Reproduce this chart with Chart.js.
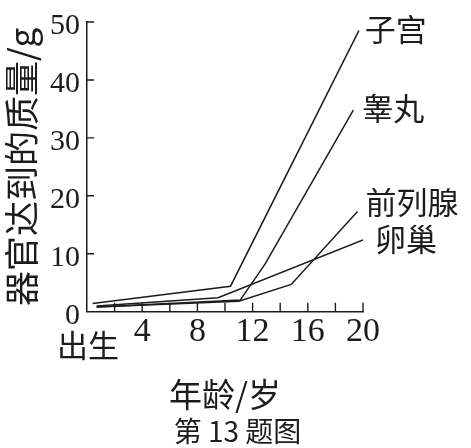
<!DOCTYPE html>
<html>
<head>
<meta charset="utf-8">
<script src="https://cdn.jsdelivr.net/npm/chart.js@4/dist/chart.umd.min.js"></script>
<style>
  html, body { margin: 0; padding: 0; background: #fff; }
  #wrap { width: 471px; height: 448px; }
</style>
</head>
<body>
<div id="wrap"><canvas id="organChart"></canvas></div>
<script>
// values (age in years, mass in g)
const seriesNames = ['子宫', '睾丸', '前列腺', '卵巢'];
const uterusAge = [0.4, 10.4, 19.7];
const uterusMass = [1.4, 4.4, 48.5];
const testisAge = [0.7, 11.1, 12.9, 19.3];
const testisMass = [0.8, 2.0, 8.2, 34.8];
const prostateAge = [0.7, 11.0, 14.8, 19.6];
const prostateMass = [0.8, 1.8, 4.7, 17.3];
const ovaryAge = [0.7, 9.5, 20];
const ovaryMass = [1.0, 2.4, 12.4];
const xTickMarks = [2, 4, 6, 8, 10, 12, 14, 16, 18, 20];
const yTickMarks = [10, 20, 30, 40, 50];
const caption = '第 13 题图';

// where each name sits relative to the end of its line
const labelShift = [[6, -1], [9, -2], [8, -9], [12, -1]];

const ink = '#1c1c1c';
const serif = '"Liberation Serif", "Noto Sans CJK SC", serif';
const cjk = '"Noto Sans CJK SC", "Liberation Serif", sans-serif';

function pairs(xs, ys) {
    return xs.map((x, i) => ({ x: x, y: ys[i] }));
}

const allSeries = [
    pairs(uterusAge, uterusMass),
    pairs(testisAge, testisMass),
    pairs(prostateAge, prostateMass),
    pairs(ovaryAge, ovaryMass)
];

const extras = {
    id: 'extras',
    afterDatasetsDraw(chart) {
        const ctx = chart.ctx;
        const xs = chart.scales.x, ys = chart.scales.y;
        const area = chart.chartArea;
        ctx.save();
        ctx.strokeStyle = ink;
        ctx.lineWidth = 1.4;
        ctx.beginPath();
        xTickMarks.forEach(v => {
            const px = xs.getPixelForValue(v);
            ctx.moveTo(px, area.bottom);
            ctx.lineTo(px, area.bottom - 9);
        });
        yTickMarks.forEach(v => {
            const py = ys.getPixelForValue(v);
            ctx.moveTo(area.left, py);
            ctx.lineTo(area.left + 7, py);
        });
        ctx.stroke();

        ctx.fillStyle = ink;
        ctx.font = '31px ' + cjk;
        ctx.textBaseline = 'middle';
        ctx.textAlign = 'left';
        chart.data.datasets.forEach((ds, i) => {
            const last = ds.data[ds.data.length - 1];
            const px = xs.getPixelForValue(last.x) + labelShift[i][0];
            const py = ys.getPixelForValue(last.y) + labelShift[i][1];
            ctx.fillText(ds.label, px, py);
        });

        ctx.textAlign = 'center';
        ctx.fillText('出生', xs.getPixelForValue(0) + 1, area.bottom + 34);

        // figure caption, centred on the whole picture
        ctx.font = '28px ' + cjk;
        ctx.fillText(caption, chart.width / 2 + 2, xs.bottom + 17);
        ctx.restore();
    }
};

new Chart(document.getElementById('organChart'), {
    type: 'line',
    data: {
        datasets: allSeries.map((pts, i) => ({
            label: seriesNames[i],
            data: pts,
            borderColor: ink,
            borderWidth: 1.5,
            pointRadius: 0,
            tension: 0,
            fill: false
        }))
    },
    options: {
        responsive: true,
        maintainAspectRatio: false,
        animation: false,
        layout: { padding: { top: 15, right: 108, left: 0, bottom: 33.6 } },
        plugins: {
            legend: { display: false },
            tooltip: { enabled: false }
        },
        scales: {
            x: {
                type: 'linear',
                min: 0,
                max: 20,
                afterFit: s => { s.height = 102.7; },
                grid: { drawOnChartArea: false, drawTicks: false },
                border: { display: true, color: ink, width: 1.5 },
                ticks: {
                    stepSize: 4,
                    autoSkip: false,
                    maxRotation: 0,
                    padding: 3,
                    color: ink,
                    font: { family: serif, size: 34, lineHeight: 1 },
                    callback: v => (v === 0 ? '' : v)
                },
                title: {
                    display: true,
                    text: '年龄/岁',
                    color: ink,
                    font: { family: cjk, size: 33, lineHeight: 1.2 },
                    padding: 0
                }
            },
            y: {
                min: 0,
                max: 50,
                afterFit: s => { s.width = 87; },
                grid: { drawOnChartArea: false, drawTicks: false },
                border: { display: true, color: ink, width: 1.5 },
                ticks: {
                    stepSize: 10,
                    padding: 7,
                    labelOffset: 4,
                    color: ink,
                    font: { family: serif, size: 30, lineHeight: 1 }
                },
                title: {
                    display: true,
                    text: '器官达到的质量/g',
                    color: ink,
                    font: { family: cjk, size: 35, lineHeight: 1.2 },
                    padding: { top: 1, bottom: 0 }
                }
            }
        }
    },
    plugins: [extras]
});
</script>
</body>
</html>
